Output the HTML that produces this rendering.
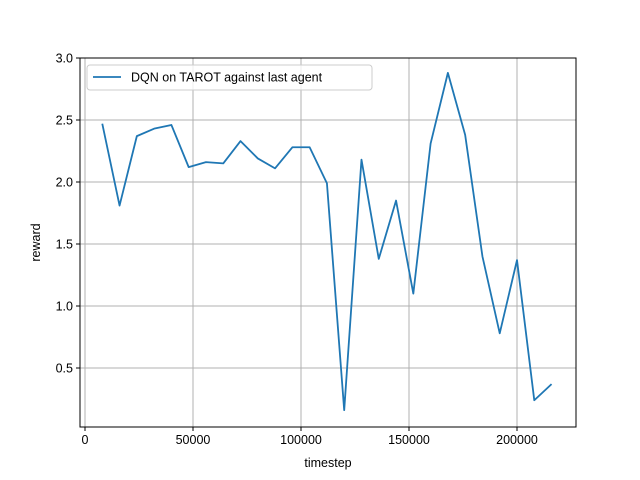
<!DOCTYPE html>
<html><head><meta charset="utf-8"><style>
body{margin:0;background:#fff;}
svg{display:block;font-family:"Liberation Sans","DejaVu Sans",sans-serif;}
</style></head><body>
<svg id="chart" width="640" height="480"></svg>
<script>
const timesteps=[8000,16000,24000,32000,40000,48000,56000,64000,72000,80000,88000,96000,104000,112000,120000,128000,136000,144000,152000,160000,168000,176000,184000,192000,200000,208000,216000];
const rewards=[2.47,1.81,2.37,2.43,2.46,2.12,2.16,2.15,2.33,2.19,2.11,2.28,2.28,1.99,0.16,2.18,1.38,1.85,1.10,2.31,2.88,2.38,1.40,0.78,1.37,0.24,0.37];
const xTicks=[0,50000,100000,150000,200000];
const yTicks=[0.5,1.0,1.5,2.0,2.5,3.0];
const seriesLabel="DQN on TAROT against last agent";

const NS="http://www.w3.org/2000/svg";
const svg=document.getElementById('chart');
const L=80,R=576,T=58,B=427;
const xs=v=>85+v*(108/50000);
const ys=v=>58+(3-v)*124;
function el(tag,attrs,parent){const e=document.createElementNS(NS,tag);for(const k in attrs)e.setAttribute(k,attrs[k]);(parent||svg).appendChild(e);return e;}

const grid=el('g',{});


xTicks.forEach(t=>{
  const l=el('line',{x1:xs(t),x2:xs(t),y1:T,y2:B,stroke:'#b0b0b0','stroke-width':1},grid);
  
  
  el('line',{x1:xs(t),x2:xs(t),y1:B,y2:B+4,stroke:'#000','stroke-width':1});
  const tx=el('text',{x:xs(t),y:B+17,'font-size':12.5,'text-anchor':'middle',fill:'#000'});
  tx.textContent=t;
  
  
});
yTicks.forEach(t=>{
  const l=el('line',{x1:L,x2:R,y1:ys(t),y2:ys(t),stroke:'#b0b0b0','stroke-width':1},grid);
  
  
  el('line',{x1:L-4,x2:L,y1:ys(t),y2:ys(t),stroke:'#000','stroke-width':1});
  const tx=el('text',{x:L-7,y:ys(t)+4.5,'font-size':12.5,'text-anchor':'end',fill:'#000'});
  tx.textContent=t.toFixed(1);
  
  
});

const line=el('polyline',{points:timesteps.map((t,i)=>xs(t)+','+ys(rewards[i])).join(' '),fill:'none',stroke:'#1f77b4','stroke-width':1.8,'stroke-linejoin':'round'});



const frame=el('rect',{x:L,y:T,width:R-L,height:B-T,fill:'none',stroke:'#000','stroke-width':1});



const xl=el('text',{x:(L+R)/2,y:467,'font-size':12.5,'text-anchor':'middle'});
xl.textContent='timestep';


const yl=el('text',{x:0,y:0,'font-size':12.5,'text-anchor':'middle',transform:'translate(40,'+((T+B)/2)+') rotate(-90)'});
yl.textContent='reward';



const lg=el('g',{});


el('rect',{x:87,y:65,width:285,height:25,rx:3,fill:'#fff','fill-opacity':0.8,stroke:'#ccc','stroke-width':1},lg);
el('line',{x1:93,x2:121,y1:77,y2:77,stroke:'#1f77b4','stroke-width':1.8},lg);
const lt=el('text',{x:131,y:81.5,'font-size':12.5},lg);
lt.textContent=seriesLabel;


</script>
</body></html>
